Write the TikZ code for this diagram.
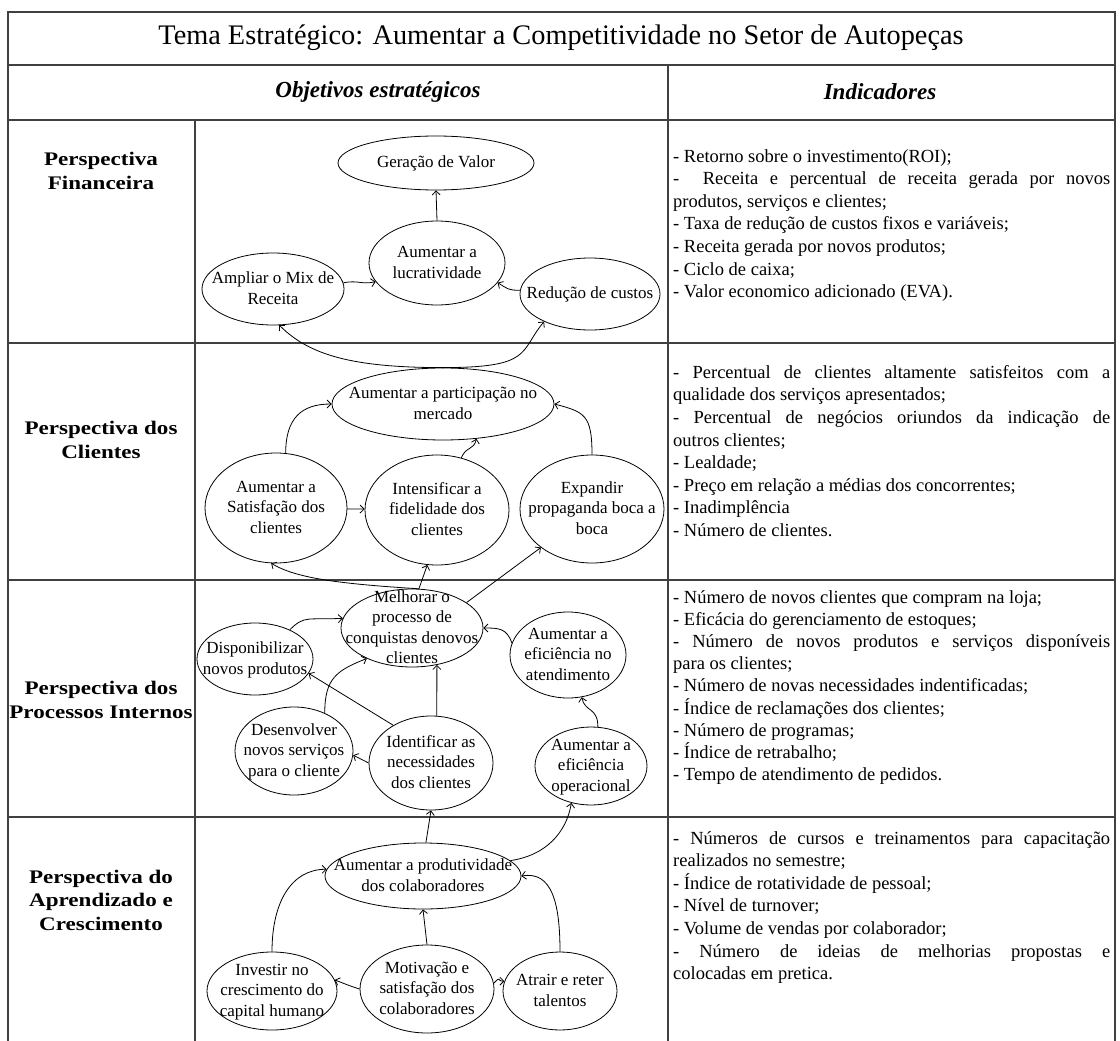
\documentclass[tikz,border=0pt]{standalone}
\usepackage{fontspec}
\setmainfont{Liberation Serif}
\newfontfamily\persfont{Liberation Serif}[FakeStretch=1.2]
\usetikzlibrary{
    shapes.geometric,
    arrows.meta
    }
\setlength{\parindent}{0pt}

\newcommand{\objtext}[1]{\smash{\makebox[0pt]{\raisebox{-0.3em}{\begin{tabular}{@{}c@{}}#1\end{tabular}}}}}

\begin{document}
\begin{tikzpicture}[x=1pt, y=-1pt]
\tikzset{grade/.style =
        {
            line width=1.3pt,
            black!75
        }
}

\tikzset{objetivo/.style 2 args =
        {
            shape=ellipse,
            draw,
            line width=0.8pt,
            minimum width=#1,
            minimum height=#2,
            inner sep=0pt,
            font=\fontsize{17}{20.5}\selectfont
        }
}

\tikzset{seta/.style =
        {
            line width=0.8pt,
            -{Straight Barb[length=4pt, width=8pt]}
        }
}

\tikzset{perspectiva/.style =
        {
            align=center,
            font=\persfont\bfseries\fontsize{19.2}{23.5}\selectfont
        }
}

\tikzset{indicadores/.style =
        {
            anchor=north west,
            inner sep=0pt,
            text width=437pt,
            align=justify,
            font=\fontsize{18.5}{22.6}\selectfont
        }
}

\tikzset{cabecalho/.style =
        {
            font=\bfseries\itshape\fontsize{23}{27}\selectfont
        }
}
		\useasboundingbox (0,0) rectangle (1120,1041);

		% grade da tabela
		\draw[grade] (8,1041) -- (8,12) -- (1115,12) -- (1115,1041);
		\foreach \y in {65, 120, 343, 580, 817}
		\draw[grade] (8,\y) -- (1115,\y);
		\draw[grade] (668,65) -- (668,1041);
		\draw[grade] (195,120) -- (195,1041);

		\node[font=\fontsize{28.3}{32}\selectfont] (tema) at (561,38) {Tema Estratégico: Aumentar a Competitividade no Setor de Autopeças};
		\node[cabecalho] (obj) at (378,92) {Objetivos estratégicos};
		\node[cabecalho] (ind) at (880,92) {Indicadores};

		\foreach \nome / \y / \texto in
			{fin/171/{Perspectiva\\Financeira},
				cli/440/{Perspectiva dos\\Clientes},
				pro/700/{Perspectiva dos\\Processos Internos},
				apr/900/{Perspectiva do\\Aprendizado e\\Crescimento}}
		\node[perspectiva] at (101,\y) (persp-\nome) {\texto};

		% perspectiva financeira
		\node[objetivo={196}{54}] (gera) at (436,163) {\objtext{Geração de Valor}};
		\node[objetivo={136}{84}] (lucr) at (437,263) {\objtext{Aumentar a\\lucratividade}};
		\node[objetivo={142}{72}] (mix) at (273,289) {\objtext{Ampliar o Mix de\\Receita}};
		\node[objetivo={140}{72}] (red) at (590,294) {\objtext{Redução de custos}};
		% perspectiva dos clientes
		\node[objetivo={222}{72}] (part) at (443,404) {\objtext{Aumentar a participação no\\mercado}};
		\node[objetivo={142}{110}] (sat) at (276,508) {\objtext{Aumentar a\\Satisfação dos\\clientes}};
		\node[objetivo={144}{110}] (int) at (437,510) {\objtext{Intensificar a\\fidelidade dos\\clientes}};
		\node[objetivo={144}{108}] (exp) at (592,509) {\objtext{Expandir\\propaganda boca a\\boca}};
		% processos internos
		\node[objetivo={142}{78}] (melh) at (412,628) {\objtext{Melhorar o\\processo de\\conquistas denovos\\clientes}};
		\node[objetivo={116}{72}] (disp) at (255,659) {\objtext{Disponibilizar\\novos produtos}};
		\node[objetivo={116}{86}] (aten) at (568,655) {\objtext{Aumentar a\\eficiência no\\atendimento}};
		\node[objetivo={118}{88}] (des) at (294,751) {\objtext{Desenvolver\\novos serviços\\para o cliente}};
		\node[objetivo={124}{94}] (ident) at (431,763) {\objtext{Identificar as\\necessidades\\dos clientes}};
		\node[objetivo={112}{78}] (oper) at (591,766) {\objtext{Aumentar a\\eficiência\\operacional}};
		% aprendizado e crescimento
		\node[objetivo={196}{66}] (prod) at (423,876) {\objtext{Aumentar a produtividade\\dos colaboradores}};
		\node[objetivo={130}{78}] (inv) at (272,991) {\objtext{Investir no\\crescimento do\\capital humano}};
		\node[objetivo={134}{88}] (mot) at (427,989) {\objtext{Motivação e\\satisfação dos\\colaboradores}};
		\node[objetivo={114}{78}] (atr) at (560,991) {\objtext{Atrair e reter\\talentos}};

		\foreach \start / \finish in
			{lucr.north/gera.south,
				sat/int,
				melh.80/int.260,
				melh.25/exp.217,
				ident.135/disp.-15,
				ident.west/des.-4,
				ident.83/melh.-56,
				prod.85/ident.south,
				mot.north/prod.south}
			{
				\draw [seta] (\start) -- (\finish);
			}

		\draw[seta] (mix.5) .. controls +(15,-3) and +(-15,3) .. (lucr.197);
		\draw[seta] (red.177) .. controls +(-12,0) and +(10,6) .. (lucr.-18);
		\draw[seta] (part.north) .. controls +(-90,0) and +(30,30) .. (mix.-80);
		\draw[seta] (part.north) .. controls +(90,0) and +(-25,30) .. (red.211);
		\draw[seta] (sat.80) .. controls +(0,-35) and +(-30,0) .. (part.west);
		\draw[seta] (int.65) .. controls +(5,-12) and +(-3,12) .. (part.-46);
		\draw[seta] (exp.north) .. controls +(0,-40) and +(30,8) .. (part.east);
		\draw[seta] (melh.80) .. controls +(-80,-5) and +(25,15) .. (sat.-95);
		\draw[seta] (disp.40) .. controls +(15,-15) and +(-35,2) .. (melh.172);
		\draw[seta] (des.51) .. controls +(0,-35) and +(-30,12) .. (melh.214);
		\draw[seta] (oper.80) .. controls +(0,-20) and +(3,15) .. (aten.-72);
		\draw[seta] (aten.168) .. controls +(-5,-15) and +(15,0) .. (melh.east);
		\draw[seta] (prod.10) .. controls +(35,-5) and +(-5,30) .. (oper.242);
		\draw[seta] (inv.north) .. controls +(0,-50) and +(-35,0) .. (prod.176);
		\draw[seta] (atr.north) .. controls +(0,-50) and +(30,-5) .. (prod.east);
		\draw[seta] (mot.west) .. controls +(-10,-3) and +(8,3) .. (inv.10);
		\draw[seta] (mot.5) .. controls +(8,-8) and +(-8,0) .. (atr.170);

		% indicadores
		\node[indicadores] (ind-fin) at (673,149) {- Retorno sobre o investimento(ROI);\par
			-\ \ Receita e percentual de receita gerada por novos\linebreak produtos, serviços e clientes;\par
			- Taxa de redução de custos fixos e variáveis;\par
			- Receita gerada por novos produtos;\par
			- Ciclo de caixa;\par
			- Valor economico adicionado (EVA).};
		\node[indicadores] (ind-cli) at (673,365) {- Percentual de clientes altamente satisfeitos com a\linebreak qualidade dos serviços apresentados;\par
			- Percentual de negócios oriundos da indicação de\linebreak outros clientes;\par
			- Lealdade;\par
			- Preço em relação a médias dos concorrentes;\par
			- Inadimplência\par
			- Número de clientes.};
		\node[indicadores, font=\fontsize{18.5}{22.2}\selectfont] (ind-pro) at (673,590) {- Número de novos clientes que compram na loja;\par
			- Eficácia do gerenciamento de estoques;\par
			- Número de novos produtos e serviços disponíveis\linebreak para os clientes;\par
			- Número de novas necessidades indentificadas;\par
			- Índice de reclamações dos clientes;\par
			- Número de programas;\par
			- Índice de retrabalho;\par
			- Tempo de atendimento de pedidos.};
		\node[indicadores] (ind-apr) at (673,831) {- Números de cursos e treinamentos para capacitação\linebreak realizados no semestre;\par
			- Índice de rotatividade de pessoal;\par
			- Nível de turnover;\par
			- Volume de vendas por colaborador;\par
			- Número de ideias de melhorias propostas e\linebreak colocadas em pretica.};

	\end{tikzpicture}
\end{document}
